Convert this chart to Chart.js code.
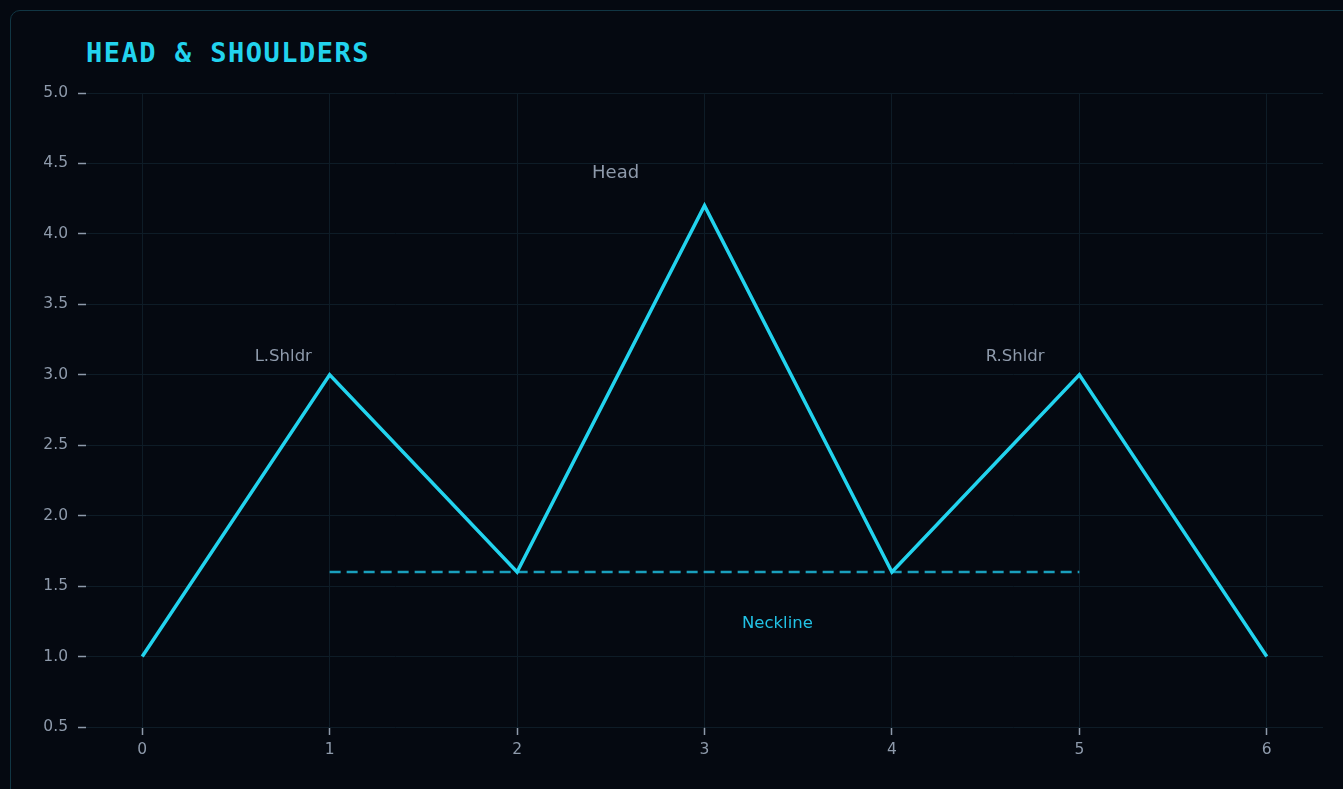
<!DOCTYPE html>
<html>
<head>
<meta charset="utf-8">
<script src="https://cdn.jsdelivr.net/npm/chart.js@4.4.0/dist/chart.umd.min.js"></script>
<style>
  html, body { margin: 0; padding: 0; background: #050911; width: 1343px; height: 789px; overflow: hidden; }
  #card { position: absolute; left: 10px; top: 10px; width: 1400px; height: 850px; box-sizing: border-box;
          border: 1px solid #113644; border-radius: 10px; background: #050911; }
  #title { position: absolute; left: 86px; top: 38px; margin: 0; font-family: 'DejaVu Sans Mono', monospace;
           font-weight: bold; font-size: 27px; line-height: 30px; letter-spacing: 1.5px; color: #22d3ee; }
  #wrap { position: absolute; left: 0; top: 0; width: 1343px; height: 789px; }
</style>
</head>
<body>
<div id="card"></div>
<h1 id="title">HEAD &amp; SHOULDERS</h1>
<div id="wrap"><canvas id="c"></canvas></div>
<script>
const xValues = [0, 1, 2, 3, 4, 5, 6];
const priceValues = [1.0, 3.0, 1.6, 4.2, 1.6, 3.0, 1.0];
const necklineX = [1, 5];
const necklineY = [1.6, 1.6];
const xTickLabels = [0, 1, 2, 3, 4, 5, 6];
const yTickLabels = [0.5, 1.0, 1.5, 2.0, 2.5, 3.0, 3.5, 4.0, 4.5, 5.0];
const labelTexts = ['L.Shldr', 'Head', 'R.Shldr', 'Neckline'];
const labelX = [0.6, 2.4, 4.5, 3.2];
const labelY = [3.1, 4.4, 3.1, 1.2];
const labelColors = ['#8e9aab', '#8e9aab', '#8e9aab', '#22c3e6'];
const labelSizes = [16.5, 18, 16.5, 16.5];

const annotate = {
  id: 'annotate',
  afterDatasetsDraw(chart) {
    const ctx = chart.ctx, xs = chart.scales.x, ys = chart.scales.y;
    ctx.save();
    ctx.textAlign = 'left';
    ctx.textBaseline = 'alphabetic';
    labelTexts.forEach((t, i) => {
      ctx.font = labelSizes[i] + 'px "DejaVu Sans"';
      ctx.fillStyle = labelColors[i];
      ctx.fillText(t, xs.getPixelForValue(labelX[i]), ys.getPixelForValue(labelY[i]));
    });
    ctx.restore();
  }
};

new Chart(document.getElementById('c'), {
  type: 'line',
  data: {
    datasets: [
      {
        data: xValues.map((x, i) => ({ x, y: priceValues[i] })),
        borderColor: '#22d3ee', borderWidth: 3.5, pointRadius: 0, tension: 0,
        borderJoinStyle: 'miter', fill: false
      },
      {
        data: necklineX.map((x, i) => ({ x, y: necklineY[i] })),
        borderColor: '#1a9fbd', borderWidth: 2.5, borderDash: [11, 6], pointRadius: 0, tension: 0, fill: false
      }
    ]
  },
  options: {
    responsive: true, maintainAspectRatio: false, animation: false,
    events: [],
    layout: { padding: { left: 0, right: 20, top: 93, bottom: 0 } },
    plugins: { legend: { display: false }, tooltip: { enabled: false }, title: { display: false } },
    scales: {
      x: {
        type: 'linear', min: -0.3, max: 6.3,
        afterBuildTicks: s => { s.ticks = xTickLabels.map(v => ({ value: v })); },
        afterFit: s => { s.height = 62; },
        border: { display: false },
        grid: { color: '#0e1c27', lineWidth: 1, drawTicks: true, tickLength: 8, tickColor: '#8e9aab', tickWidth: 1.5 },
        ticks: { color: '#8e9aab', font: { family: 'DejaVu Sans', size: 15.5 }, padding: 6, maxRotation: 0 }
      },
      y: {
        type: 'linear', min: 0.5, max: 5.0,
        afterBuildTicks: s => { s.ticks = yTickLabels.map(v => ({ value: v })); },
        afterFit: s => { s.width = 86; },
        border: { display: false },
        grid: { color: '#0e1c27', lineWidth: 1, drawTicks: true, tickLength: 8, tickColor: '#8e9aab', tickWidth: 1.5 },
        ticks: { color: '#8e9aab', font: { family: 'DejaVu Sans', size: 15.5 }, padding: 10,
                 callback: v => Number(v).toFixed(1) }
      }
    }
  },
  plugins: [annotate]
});
</script>
</body>
</html>
